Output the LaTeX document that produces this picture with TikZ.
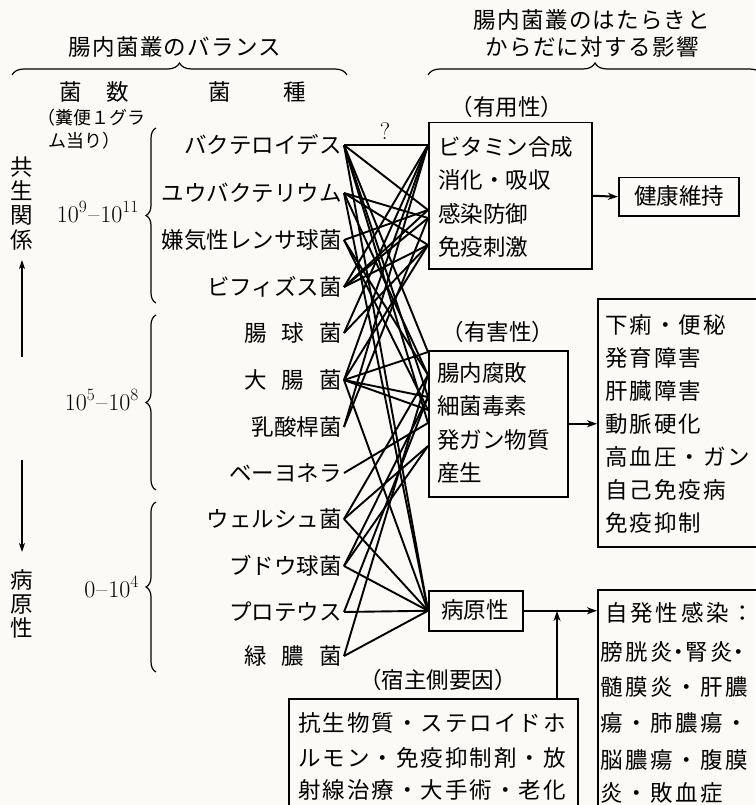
\documentclass[tikz,border=0pt]{standalone}
\usepackage{fontspec}
\newfontfamily\jp{Noto Sans CJK JP}
\usetikzlibrary{decorations.pathreplacing,arrows.meta,calc}
\definecolor{bgc}{RGB}{251,250,246}
\begin{document}
\begin{tikzpicture}[x=1pt,y=-1pt,
  jl/.style={font=\jp\fontsize{22.5}{27}\selectfont, inner sep=0pt, text height=18.5pt, text depth=1.5pt},
  ttl/.style={jl, font=\jp\fontsize{22.5}{27}\selectfont\addfontfeatures{LetterSpace=6}},
  rtx/.style={jl, font=\jp\fontsize{22.5}{27}\selectfont\addfontfeatures{LetterSpace=9}},
  rtxb/.style={jl, font=\jp\fontsize{22.5}{27}\selectfont\addfontfeatures{LetterSpace=11}},
  sml/.style={font=\jp\fontsize{18}{22}\selectfont, inner sep=0pt, text height=15pt, text depth=1pt},
  bac/.style={jl, anchor=east, inner xsep=2pt},
  num/.style={font=\fontsize{24}{28}\selectfont, inner sep=0pt},
  box/.style={draw, line width=1.5pt, inner sep=0pt, anchor=north west},
  brc/.style={decorate, line width=1.2pt},
  conn/.style={line width=1.9pt},
  arr/.style={line width=2pt, -{Stealth[length=10pt,width=7pt,inset=3pt]}},
  thinarr/.style={line width=1.3pt, -{Stealth[length=9pt,width=6pt,inset=2.5pt]}}]
\useasboundingbox (0,0) rectangle (755,805);
\fill[bgc] (0,0) rectangle (755,805);

% titles and braces
\node[ttl] (t1) at (175,47) {腸内菌叢のバランス};
\node[ttl] (t2a) at (592,20) {腸内菌叢のはたらきと};
\node[ttl] (t2b) at (592,47) {からだに対する影響};
\draw[brc, decoration={brace,amplitude=12pt}] (12,75) -- (347,75);
\draw[brc, decoration={brace,amplitude=12pt}] (428,75) -- (762,75);

% headers
\node[jl] (h1) at (94,92) {菌\hspace{24.5pt}数};
\node[jl] (h2) at (257,92) {菌\hspace{52pt}種};
\node[sml] (h3) at (91,118) {（糞便１グラ};
\node[sml] (h4) at (84,141) {ム当り）};

% left axis
\node[jl] (v1) at (22,167) {共};
\node[jl] (v2) at (22,191) {生};
\node[jl] (v3) at (22,215) {関};
\node[jl] (v4) at (22,240) {係};
\coordinate (axu1) at (22,357);
\coordinate (axu2) at (22,260);
\draw[thinarr] (axu1) -- (axu2);
\coordinate (axd1) at (22,460);
\coordinate (axd2) at (22,552);
\draw[thinarr] (axd1) -- (axd2);
\node[jl] (w1) at (22,580) {病};
\node[jl] (w2) at (22,604) {原};
\node[jl] (w3) at (22,628) {性};

% counts and braces
\node[num, anchor=base east] (n1) at (139,222) {10$^{9}$\kern1pt--\kern1pt10$^{11}$};
\node[num, anchor=base east] (n2) at (139,410) {10$^{5}$\kern1pt--\kern1pt10$^{8}$};
\node[num, anchor=base east] (n3) at (139,597) {0\kern1pt--\kern1pt10$^{4}$};
\draw[brc, decoration={brace,amplitude=10pt}] (156,303) -- (156,128);
\draw[brc, decoration={brace,amplitude=10pt}] (156,490) -- (156,315);
\draw[brc, decoration={brace,amplitude=10pt}] (156,672) -- (156,502);

% bacteria
\node[bac] (bac1) at (344,145) {バクテロイデス};
\node[bac] (bac2) at (344,193) {ユウバクテリウム};
\node[bac] (bac3) at (344,240) {嫌気性レンサ球菌};
\node[bac] (bac4) at (344,287) {ビフィズス菌};
\node[bac] (bac5) at (344,333) {腸\hspace{15pt}球\hspace{15pt}菌};
\node[bac] (bac6) at (344,380) {大\hspace{15pt}腸\hspace{15pt}菌};
\node[bac] (bac7) at (344,427) {乳酸桿菌};
\node[bac] (bac8) at (344,473) {ベーヨネラ};
\node[bac] (bac9) at (344,519) {ウェルシュ菌};
\node[bac] (bac10) at (344,566) {ブドウ球菌};
\node[bac] (bac11) at (344,612) {プロテウス};
\node[bac] (bac12) at (344,656) {緑\hspace{15pt}膿\hspace{15pt}菌};

% boxes
\node[box, minimum width=163pt, minimum height=146pt] (b1) at (428,122) {};
\node[box, minimum width=139pt, minimum height=146pt] (b2) at (428,350) {};
\node[box, minimum width=94pt, minimum height=40pt] (b3) at (428,590) {};
\node[jl] (b3t) at (475,610) {病原性};
\node[box, minimum width=120pt, minimum height=38pt] (health) at (618,177) {};
\node[jl] (healtht) at (679,196) {健康維持};
\node[box, minimum width=175pt, minimum height=248pt] (rb2) at (597,298) {};
\node[box, minimum width=175pt, minimum height=240pt] (rb3) at (597,589) {};
\node[box, minimum width=289pt, minimum height=130pt] (host) at (288,698) {};

\node[jl] (l1) at (507,107) {（有用性）};
\node[jl] (l2) at (498,332) {（有害性）};
\node[jl] (l3) at (438,680) {（宿主側要因）};
\node[font=\fontsize{24}{26}\selectfont, inner sep=0pt] (q) at (385,131) {?};

\foreach \t [count=\i] in {ビタミン合成,消化・吸収,感染防御,免疫刺激}
  \node[jl, anchor=west] (b1l\i) at (438,{147+33.3*(\i-1)}) {\t};
\foreach \t [count=\i] in {腸内腐敗,細菌毒素,発ガン物質,産生}
  \node[jl, anchor=west] (b2l\i) at (437,{373+33.3*(\i-1)}) {\t};
\foreach \t [count=\i] in {下痢・便秘,発育障害,肝臓障害,動脈硬化,高血圧・ガン,自己免疫病,免疫抑制}
  \node[rtx, anchor=west] (r2l\i) at (605,{325+33*(\i-1)}) {\t};

\node[jl, anchor=west] (r3l1) at (605,613) {自\hspace{2.8pt}発\hspace{2.8pt}性\hspace{2.8pt}感\hspace{2.8pt}染\hspace{2.8pt}：};
\node[rtxb, anchor=west] (r3l2) at (600,652) {膀胱炎\kern-5pt・\kern-5pt腎炎\kern-5pt・};
\node[rtxb, anchor=west] (r3l3) at (600,687) {髄膜炎・肝膿};
\node[rtxb, anchor=west] (r3l4) at (600,723) {瘍・肺膿瘍・};
\node[rtxb, anchor=west] (r3l5) at (600,760) {脳膿瘍・腹膜};
\node[rtxb, anchor=west] (r3l6) at (600,793) {炎・敗血症};

\node[rtx, anchor=west] (hl1) at (298,723) {抗生物質・ステロイドホ};
\node[rtx, anchor=west] (hl2) at (298,758) {ルモン・免疫抑制剤・放};
\node[rtx, anchor=west] (hl3) at (298,790) {射線治療・大手術・老化};

% arrows between boxes
\draw[arr] (b1.east) -- (health.west);
\draw[arr] (b2.east) -- (b2.east -| rb2.west);
\draw[arr] (b3.east) -- (b3.east -| rb3.west);
\coordinate (hj) at (557,611);
\draw[arr] (host.north -| hj) -- (hj);

% connector end points on the box edges
\coordinate (c1a) at (428,145);
\coordinate (c1b) at (428,210);
\coordinate (c1c) at (428,218);
\coordinate (c1d) at (428,245);
\coordinate (c2a) at (428,352);
\coordinate (c2b) at (428,375);
\coordinate (c2c) at (428,397);
\coordinate (c2d) at (428,410);
\coordinate (c2e) at (428,423);
\coordinate (c2f) at (428,446);

\foreach \a/\b in {bac1/c1a, bac1/c1b, bac1/c2a, bac1/c2c, bac1/c2e, bac1/b3.west,
  bac2/c1c, bac2/c1d, bac2/c2b, bac2/b3.west,
  bac3/c1b, bac3/c2b, bac3/c2d,
  bac4/c1a, bac4/c1b, bac4/c1c, bac4/c1d,
  bac5/c1a, bac5/c1d,
  bac6/c1a, bac6/c1d, bac6/c2a, bac6/c2c, bac6/c2d, bac6/b3.west,
  bac7/c1a, bac7/c1c,
  bac8/c2e,
  bac9/c2b, bac9/c2f, bac9/b3.west,
  bac10/c2c, bac10/c2f, bac10/b3.west,
  bac11/c2c, bac11/b3.west,
  bac12/c2b, bac12/b3.west}
  \draw[conn] (\a.east) -- (\b);
\end{tikzpicture}
\end{document}
